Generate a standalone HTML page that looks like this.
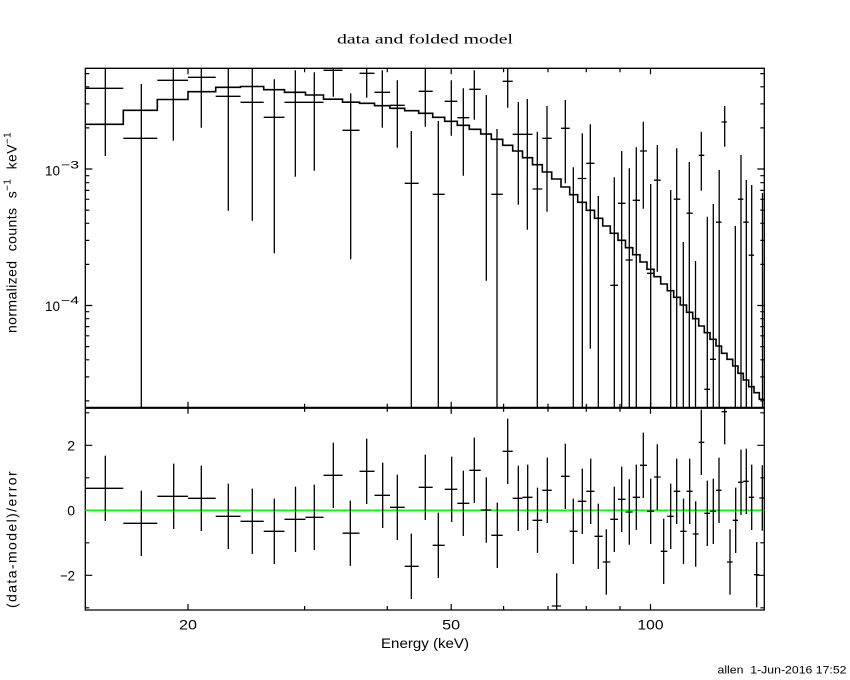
<!DOCTYPE html>
<html><head><meta charset="utf-8"><style>
html,body{margin:0;padding:0;background:#fff;}
svg{display:block;}
.s{font-family:"Liberation Sans",sans-serif;}
</style></head><body>
<svg width="850" height="680" viewBox="0 0 850 680" xmlns="http://www.w3.org/2000/svg">
<rect width="850" height="680" fill="#fff"/>
<text x="425" y="43.5" text-anchor="middle" font-family="'Liberation Serif', serif" font-size="14" textLength="176" lengthAdjust="spacingAndGlyphs" fill="#000">data and folded model</text>

<g fill="none" stroke="#000" stroke-width="1.3">
<path d="M85.3 68.3H764.3V610H85.3Z"/>
<path d="M85.3 407.8H764.3" stroke-width="2.2"/>
</g>

<g fill="none" stroke="#000" stroke-width="1.2">
<path d="M85.3 169h7M85.3 305.5h7M764.3 169h-7M764.3 305.5h-7"/>
<path d="M85.3 73.6h4M85.3 86.8h4M85.3 103.9h4M85.3 127.9h4M85.3 175.7h4M85.3 182.7h4M85.3 190.4h4M85.3 199.3h4M85.3 210.1h4M85.3 223.3h4M85.3 240.4h4M85.3 264.4h4M85.3 311.7h4M85.3 318.7h4M85.3 326.6h4M85.3 335.8h4M85.3 346.6h4M85.3 359.8h4M85.3 376.9h4M85.3 400.9h4"/>
<path d="M764.3 73.6h-4M764.3 86.8h-4M764.3 103.9h-4M764.3 127.9h-4M764.3 175.7h-4M764.3 182.7h-4M764.3 190.4h-4M764.3 199.3h-4M764.3 210.1h-4M764.3 223.3h-4M764.3 240.4h-4M764.3 264.4h-4M764.3 311.7h-4M764.3 318.7h-4M764.3 326.6h-4M764.3 335.8h-4M764.3 346.6h-4M764.3 359.8h-4M764.3 376.9h-4M764.3 400.9h-4"/>
<path d="M188 68.3v6M451.2 68.3v6M650.5 68.3v6M304.6 68.3v4M387.3 68.3v4M503.6 68.3v4M548 68.3v4M586.3 68.3v4M620 68.3v4"/>
<path d="M188 407.8v-6M451.2 407.8v-6M650.5 407.8v-6M304.6 407.8v-4M387.3 407.8v-4M503.6 407.8v-4M548 407.8v-4M586.3 407.8v-4M620 407.8v-4"/>
<path d="M188 407.8v6M451.2 407.8v6M650.5 407.8v6M304.6 407.8v4M387.3 407.8v4M503.6 407.8v4M548 407.8v4M586.3 407.8v4M620 407.8v4"/>
<path d="M188 610v-6M451.2 610v-6M650.5 610v-6M304.6 610v-4M387.3 610v-4M503.6 610v-4M548 610v-4M586.3 610v-4M620 610v-4"/>
<path d="M85.3 445.3h7M85.3 510.3h7M85.3 575.3h7M85.3 412.8h4M85.3 477.8h4M85.3 542.8h4M85.3 607.8h4"/>
<path d="M764.3 445.3h-7M764.3 510.3h-7M764.3 575.3h-7M764.3 412.8h-4M764.3 477.8h-4M764.3 542.8h-4M764.3 607.8h-4"/>
</g>

<path fill="none" stroke="#000" stroke-width="1.6" d="M85.3 124.3H123.3V110.3H157.3V99.5H188V91.7H215.7V87.3H240.5V86.5H263.7V89.7H284.5V92.3H305.5V95H323.5V99.2H342.5V102.2H359.5V103.3H374.5V105.7H390V108.3H404.7V110.7H418.7V113.3H432.7V117.3H444.7V121.3H457.3V125.3H469.3V129.3H480.7V134H491.3V139.3H502.7V145.3H512.7V151H522.5V157.7H532.5V164.7H542.3V172H551.7V179H561V187H569.7V194.7H577.7V202.3H586.3V210.3H594.5V218.3H602.7V226H610.3V233.3H618V240.3H625.5V247.7H632.7V254.7H640V262H647V269.3H654V276.7H660.7V284H667.3V290.7H673.7V297.3H680.3V305H686.5V312.3H692.7V318.7H698.7V326H704.3V332.7H710V339.3H716V346H721.5V353.3H727V359.3H732.7V366H738V373.3H743.3V380H748.7V386.7H754V392.7H759.3V399.3H764.3"/>

<path fill="none" stroke="#000" stroke-width="1.3" d="M85.3 88.3H123.3M105.3 68.3V156 M123.3 138.3H157.3M141.3 84V407.8 M157.3 80.3H188M173.3 68.3V140.7 M188 77.3H215.7M201.3 68.3V127.7 M215.7 96.3H240.5M228.3 68.3V210.7 M240.5 102.3H263.7M252.3 68.3V220.7 M263.7 117.3H284.5M274.3 79.3V253.3 M284.5 102.3H305.5M295.3 70.3V176.7 M305.5 102.3H323.5M314.3 72.3V170.7 M323.5 70.3H342.5M333.3 68.3V96.7 M342.5 130.3H359.5M350.7 93.3V259.3 M359.5 73.3H374.5M366.7 68.3V97.7 M374.5 92.3H390M382.3 70.3V127.7 M390 105.3H404.7M397.3 80.3V147.7 M404.7 183.3H418.7M411.3 131V407.8 M418.7 91.3H432.7M425.3 68.3V126.7 M432.7 194.3H444.7M438.3 121V407.8 M444.7 101.3H457.3M451.3 80.3V135.7 M457.3 117.7H469.3M463.3 88.3V175.7 M469.3 89.3H480.7M474.3 70.3V119.7 M480.7 134H491.3M486.3 95V280.7 M491.3 194.3H502.7M497 129V407.8 M502.7 81.3H512.7M507.7 68.3V107.7 M512.7 134.3H522.5M518.3 102V204.7 M522.5 134.3H532.5M527.3 99V229.7 M532.5 189H542.3M537.3 131.7V407.8 M542.3 138.3H551.7M547 106V211.7 M561 128.3H569.7M565.3 100V183.3 M573.3 167.3V407.8 M577.7 178.5H586.3M582.3 133.3V407.8 M586.3 163.3H594.5M590.3 124.3V348.7 M598.3 196V407.8 M610.3 285.3H618M614.3 177.3V407.8 M618 203.3H625.5M621.7 151V407.8 M625.5 260H632.7M629.3 168.3V407.8 M632.7 200.3H640M636.3 147.3V407.8 M640 151H647M643.3 121.7V208.7 M647 273.3H654M650.7 184V407.8 M654 180.2H660.7M657.3 145V271.7 M670.7 190V407.8 M673.7 199.2H680.3M676.7 148.3V407.8 M683.3 242V407.8 M686.5 213.2H692.7M689.3 162V407.8 M695.5 261V407.8 M698.7 155.3H704.3M701.3 131.7V190.7 M704.3 389.3H710M707.3 216.7V407.8 M710 359.3H716M713.3 204V407.8 M716 222.2H721.5M719.2 170V407.8 M721.5 122H727M724.7 106V146.7 M735.3 226V407.8 M738 199.2H743.3M741 155V407.8 M743.3 222.2H748.7M746.3 180V407.8 M748.7 255.2H754M751.7 185V407.8 M762.5 193V407.8"/>

<path d="M85.3 510.3H764.3" stroke="#00ff00" stroke-width="1.5" fill="none"/>

<path fill="none" stroke="#000" stroke-width="1.3" d="M85.3 488.3H123.3M105.3 455.6V521 M123.3 523.3H157.3M141.3 490.6V556 M157.3 496.3H188M173.7 463.6V529 M188 498.3H215.7M201.3 465.6V531 M215.7 516.3H240.5M228.3 483.6V549 M240.5 521.3H263.7M252.3 488.6V554 M263.7 531.3H284.5M274.3 498.6V564 M284.5 519.3H305.5M295.5 486.6V552 M305.5 517.3H323.5M314.3 484.6V550 M323.5 475.3H342.5M333.3 442.6V508 M342.5 533.2H359.5M350.3 500.5V565.9 M359.5 471.3H374.5M366.7 438.6V504 M374.5 495.3H390M382.7 462.6V528 M390 507.3H404.7M397.3 474.6V540 M404.7 566.3H418.7M411.3 533.6V599 M418.7 487.3H432.7M425.3 454.6V520 M432.7 545.3H444.7M438.3 512.6V578 M444.7 489.3H457.3M451.7 456.6V522 M457.3 503.3H469.3M463.3 470.6V536 M469.3 470.3H480.7M474.3 437.6V503 M480.7 510H491.3M486.3 477.3V542.7 M491.3 535.3H502.7M497.3 502.6V568 M502.7 451.3H512.7M507.7 418.6V484 M512.7 498.3H522.5M518.3 465.6V531 M522.5 497.3H532.5M527.7 464.6V530 M532.5 520.3H542.3M537.5 487.6V553 M542.3 490.3H551.7M547.3 457.6V523 M551.7 606H561M556.7 573.3V610 M561 476.3H569.7M565.3 443.6V509 M569.7 531.3H577.7M573.3 498.6V564 M577.7 501.3H586.3M582.3 468.6V534 M586.3 491.3H594.5M590.7 458.6V524 M594.5 536.3H602.7M598.3 503.6V569 M602.7 562H610.3M606.3 529.3V594.7 M610.3 519.3H618M614.3 486.6V552 M618 499.3H625.5M621.7 466.6V532 M625.5 512H632.7M629.3 479.3V544.7 M632.7 497.3H640M636.3 464.6V530 M640 465.3H647M643.3 432.6V498 M647 511.3H654M650.7 478.6V544 M654 477H660.7M657.3 444.3V509.7 M660.7 551.3H667.3M663.7 518.6V584 M667.3 516.3H673.7M670.7 483.6V549 M673.7 491.3H680.3M676.7 458.6V524 M680.3 531.3H686.5M683.5 498.6V564 M686.5 491.3H692.7M689.7 458.6V524 M692.7 534H698.7M695.7 501.3V566.7 M698.7 442.3H704.3M701.3 409.6V475 M704.3 513.3H710M707.3 480.6V546 M710 511.3H716M713.3 478.6V544 M716 490.3H721.5M719 457.6V523 M721.5 411.7H727M724.7 408V444.4 M727 562H732.7M730 529.3V594.7 M732.7 520.3H738M735.7 487.6V553 M738 482.3H743.3M741 449.6V515 M743.3 481.3H748.7M746.3 448.6V514 M748.7 497.3H754M751.7 464.6V530 M754 574.7H759.3M756.7 542V607.4 M759.3 498H764.3M762.3 465.3V530.7"/>

<g class="s" fill="#000">
<text x="45" y="175.5" font-size="14" textLength="15" lengthAdjust="spacingAndGlyphs">10</text>
<text x="61" y="168.5" font-size="11" textLength="18" lengthAdjust="spacingAndGlyphs">−3</text>
<text x="45" y="311" font-size="14" textLength="15" lengthAdjust="spacingAndGlyphs">10</text>
<text x="61" y="304" font-size="11" textLength="18" lengthAdjust="spacingAndGlyphs">−4</text>
<text x="75" y="450.5" font-size="14" text-anchor="end">2</text>
<text x="75" y="515.5" font-size="14" text-anchor="end">0</text>
<text x="75" y="580.5" font-size="14" text-anchor="end" textLength="15" lengthAdjust="spacingAndGlyphs">−2</text>
<text x="188" y="629.5" font-size="14" text-anchor="middle" textLength="18" lengthAdjust="spacingAndGlyphs">20</text>
<text x="451.2" y="629.5" font-size="14" text-anchor="middle" textLength="18" lengthAdjust="spacingAndGlyphs">50</text>
<text x="650.5" y="629.5" font-size="14" text-anchor="middle" textLength="26" lengthAdjust="spacingAndGlyphs">100</text>
<text x="425" y="648" font-size="14" text-anchor="middle" textLength="88" lengthAdjust="spacingAndGlyphs">Energy (keV)</text>
<text transform="translate(16.5,333) rotate(-90)" font-size="14" word-spacing="5" letter-spacing="0.4">normalized counts s<tspan dy="-6" font-size="10">−1</tspan><tspan dy="6" font-size="14"> keV</tspan><tspan dy="-6" font-size="10">−1</tspan></text>
<text transform="translate(16.5,608) rotate(-90)" font-size="14" letter-spacing="1.4">(data-model)/error</text>
<text x="717.5" y="673.5" font-size="11" textLength="129" lengthAdjust="spacingAndGlyphs">allen&#160; 1-Jun-2016 17:52</text>
</g>
</svg>
</body></html>
